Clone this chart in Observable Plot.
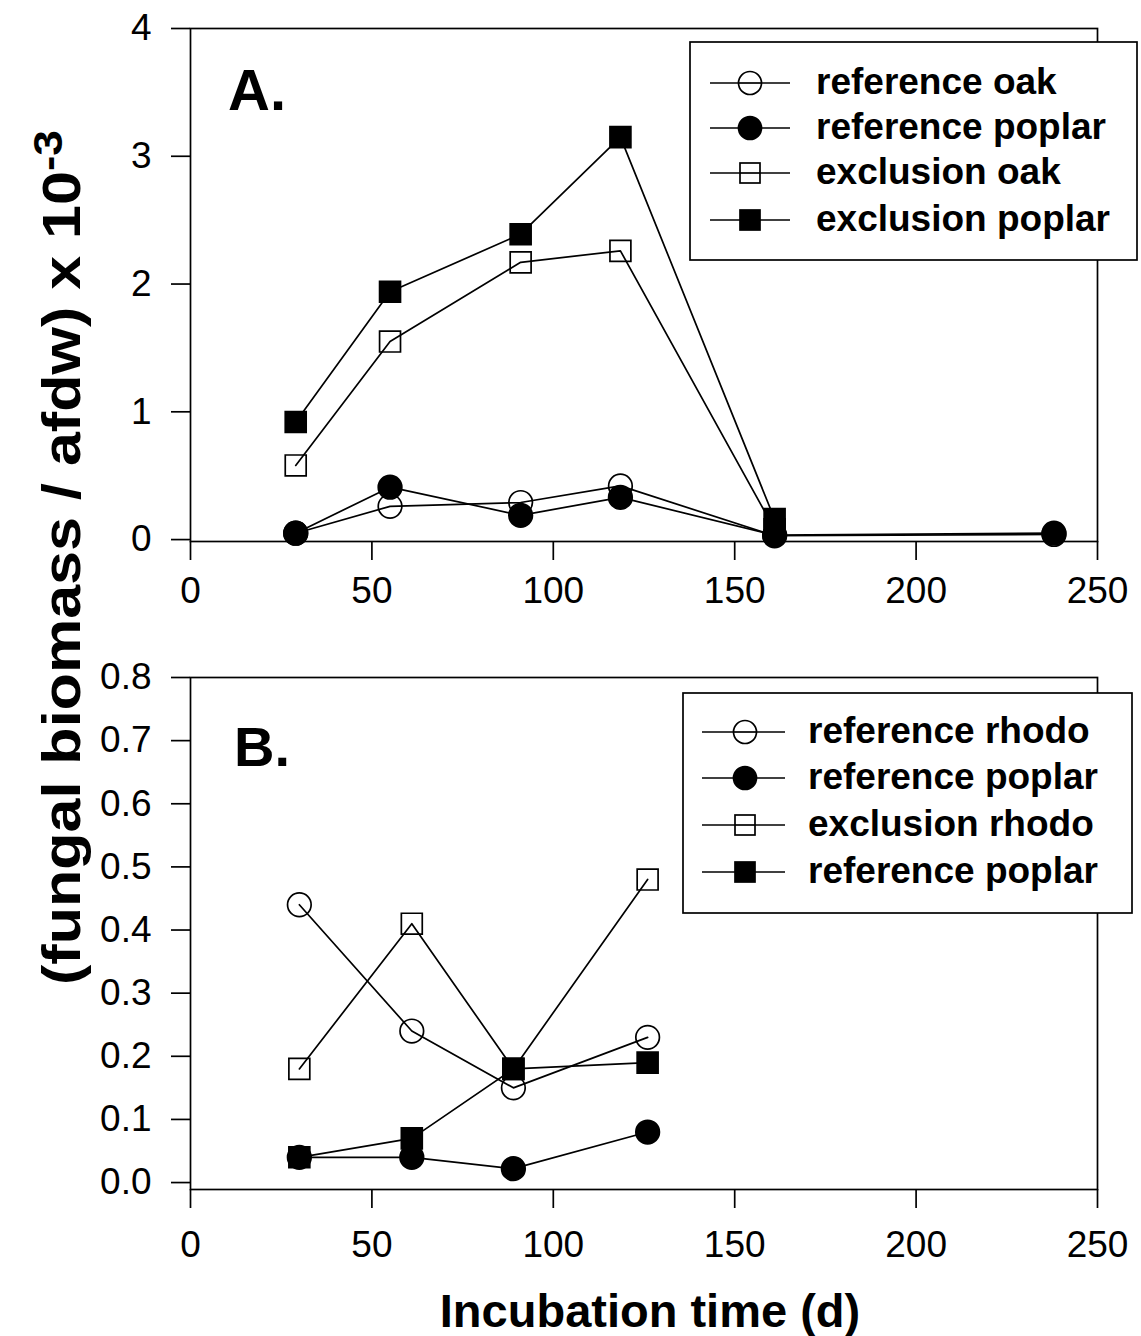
<!DOCTYPE html>
<html>
<head>
<meta charset="utf-8">
<script src="https://cdn.jsdelivr.net/npm/d3@7"></script>
<script src="https://cdn.jsdelivr.net/npm/@observablehq/plot@0.6"></script>
<style>
  html, body { margin: 0; padding: 0; background: #fff; }
  #fig { position: relative; width: 1141px; height: 1336px; background: #fff; overflow: hidden;
         font-family: "Liberation Sans", Arial, Helvetica, sans-serif; }
  #fig > svg, #fig > figure { position: absolute; left: 0; margin: 0; }
</style>
</head>
<body>
<div id="fig"></div>
<script>
// ---------- Data ----------
// Panel A
const daysA = [29, 55, 91, 118.5, 161, 238];
const refOakA     = [0.05, 0.26, 0.29, 0.42, 0.03, 0.04];
const refPoplarA  = [0.05, 0.41, 0.19, 0.33, 0.035, 0.05];
const exclOakA    = [0.58, 1.55, 2.17, 2.26, 0.08, null];
const exclPoplarA = [0.92, 1.94, 2.39, 3.15, 0.16, null];
const legendA = ["reference oak", "reference poplar", "exclusion oak", "exclusion poplar"];

// Panel B
const daysB = [30, 61, 89, 126];
const refRhodoB    = [0.44, 0.24, 0.15, 0.23];
const refPoplarB   = [0.04, 0.04, 0.022, 0.08];
const exclRhodoB   = [0.18, 0.41, 0.18, 0.48];
const refPoplar2B  = [0.04, 0.07, 0.18, 0.19];
const legendB = ["reference rhodo", "reference poplar", "exclusion rhodo", "reference poplar"];

// Ticks
const xTicks = [0, 50, 100, 150, 200, 250];
const yTicksA = [0, 1, 2, 3, 4];
const yTicksB = [0, 0.1, 0.2, 0.3, 0.4, 0.5, 0.6, 0.7, 0.8];

// Symbol styles per series index: open circle, filled circle, open square, filled square
const styles = [
  {symbol: "circle", filled: false},
  {symbol: "circle", filled: true},
  {symbol: "square", filled: false},
  {symbol: "square", filled: true}
];

function rows(days, seriesArr, names) {
  const out = [];
  seriesArr.forEach((vals, i) => {
    vals.forEach((v, j) => {
      if (v != null) out.push({day: days[j], value: v, series: i, name: names[i]});
    });
  });
  return out;
}

const dataA = rows(daysA, [refOakA, refPoplarA, exclOakA, exclPoplarA], legendA);
const dataB = rows(daysB, [refRhodoB, refPoplarB, exclRhodoB, refPoplar2B], legendB);

const FONT = "'Liberation Sans', Arial, Helvetica, sans-serif";
const SW = 1.7;
const R = 11.8;
const TICKFONT = 37;

function dotMarks(data) {
  const order = [0, 2, 1, 3];
  return order.map(i => Plot.dot(data.filter(d => d.series === i), {
    x: "day", y: "value", symbol: styles[i].symbol, r: R,
    stroke: "black", strokeWidth: SW,
    fill: styles[i].filled ? "black" : "none"
  }));
}

function panel({data, height, marginTop, marginBottom, yDomain, yTicks, yFormat, tickPaddingX}) {
  return Plot.plot({
    width: 1141, height,
    marginLeft: 190, marginRight: 44, marginTop, marginBottom,
    style: {fontFamily: FONT, fontSize: TICKFONT + "px", background: "transparent", overflow: "visible", color: "black"},
    x: {domain: [0, 250]},
    y: {domain: yDomain},
    marks: [
      Plot.frame({stroke: "black", strokeWidth: SW}),
      Plot.axisX({ticks: xTicks, tickSize: 19, tickPadding: tickPaddingX, fontSize: TICKFONT,
                  strokeWidth: SW, label: null, tickFormat: d3.format("d")}),
      Plot.axisY({ticks: yTicks, tickSize: 19, tickPadding: 20, fontSize: TICKFONT,
                  strokeWidth: SW, label: null, tickFormat: yFormat}),
      Plot.line(data, {x: "day", y: "value", z: "series", stroke: "black", strokeWidth: SW}),
      ...dotMarks(data)
    ]
  });
}

const fig = document.getElementById("fig");

const plotA = panel({
  data: dataA, height: 620, marginTop: 28, marginBottom: 620 - 541,
  yDomain: [-0.015, 4], yTicks: yTicksA, yFormat: d3.format("d"), tickPaddingX: 16
});
plotA.style.top = "0px";
fig.appendChild(plotA);

const plotB = panel({
  data: dataB, height: 660, marginTop: 677 - 620, marginBottom: 1280 - 1189,
  yDomain: [-0.011, 0.8], yTicks: yTicksB, yFormat: d3.format(".1f"), tickPaddingX: 22
});
plotB.style.top = "620px";
fig.appendChild(plotB);

// ---------- Overlay: legends, panel labels, axis titles ----------
const ov = d3.select(fig).append("svg")
  .attr("width", 1141).attr("height", 1336)
  .style("top", "0px").style("position", "absolute").style("left", "0px")
  .attr("font-family", FONT);

function legend(box, rowsY, lineX0, lineX1, markX, textX, labels) {
  const g = ov.append("g");
  g.append("rect").attr("x", box.x).attr("y", box.y).attr("width", box.w).attr("height", box.h)
    .attr("fill", "white").attr("stroke", "black").attr("stroke-width", SW);
  labels.forEach((lab, i) => {
    const y = rowsY[i];
    g.append("line").attr("x1", lineX0).attr("x2", lineX1).attr("y1", y).attr("y2", y)
      .attr("stroke", "black").attr("stroke-width", SW);
    const st = styles[i];
    if (st.symbol === "circle") {
      g.append("circle").attr("cx", markX).attr("cy", y).attr("r", 11.5)
        .attr("fill", st.filled ? "black" : "white").attr("stroke", "black").attr("stroke-width", SW);
      if (!st.filled) g.append("line").attr("x1", markX - 11.5).attr("x2", markX + 11.5).attr("y1", y).attr("y2", y)
        .attr("stroke", "black").attr("stroke-width", SW);
    } else {
      g.append("rect").attr("x", markX - 10).attr("y", y - 10).attr("width", 20).attr("height", 20)
        .attr("fill", st.filled ? "black" : "white").attr("stroke", "black").attr("stroke-width", SW);
      if (!st.filled) g.append("line").attr("x1", markX - 10).attr("x2", markX + 10).attr("y1", y).attr("y2", y)
        .attr("stroke", "black").attr("stroke-width", SW);
    }
    g.append("text").attr("x", textX).attr("y", y + 11).attr("font-size", 37).attr("font-weight", "bold")
      .text(lab);
  });
}

legend({x: 690, y: 42, w: 447, h: 218}, [83, 128, 173, 220], 710, 790, 750, 816, legendA);
legend({x: 683, y: 693, w: 449, h: 220}, [732, 778, 825, 872], 702, 785, 745, 808, legendB);

// Panel labels
ov.append("text").attr("x", 228).attr("y", 110).attr("font-size", 58).attr("font-weight", "bold").text("A.");
ov.append("text").attr("x", 234).attr("y", 766).attr("font-size", 56).attr("font-weight", "bold").text("B.");

// X axis title
ov.append("text").attr("x", 650).attr("y", 1327).attr("text-anchor", "middle")
  .attr("font-size", 47).attr("font-weight", "bold").text("Incubation time (d)");

// Y axis title (spans both panels)
const yl = ov.append("text")
  .attr("transform", "translate(80,985) rotate(-90)")
  .attr("font-size", 53).attr("font-weight", "bold")
  .attr("textLength", 855).attr("lengthAdjust", "spacingAndGlyphs");
yl.append("tspan").text("(fungal biomass / afdw) x 10");
yl.append("tspan").attr("dy", -18).attr("font-size", 40).text("-3");
</script>
</body>
</html>
